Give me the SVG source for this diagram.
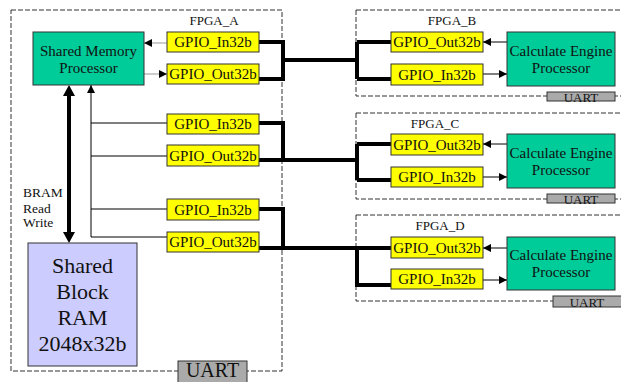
<svg xmlns="http://www.w3.org/2000/svg" width="621" height="382" viewBox="0 0 621 382">
<defs>
<marker id="ah" viewBox="0 0 10 10" refX="10" refY="5" markerWidth="8" markerHeight="8" markerUnits="userSpaceOnUse" orient="auto"><path d="M0,0 L10,5 L0,10 z" fill="#000"/></marker>
<style>
text{font-family:"Liberation Serif","Times New Roman",serif;fill:#111}
.fpga{fill:none;stroke:#333;stroke-width:1;stroke-dasharray:5 2}
.gpio{fill:#ffff00;stroke:#333;stroke-width:1}
.gt{font-size:15px;text-anchor:middle}
.proc{fill:#00cc99;stroke:#333;stroke-width:1}
.pt{font-size:15px;text-anchor:middle}
.uart{fill:#aaaaaa;stroke:#333;stroke-width:1}
.bus{fill:none;stroke:#000;stroke-width:4;stroke-linejoin:miter}
.thin{fill:none;stroke:#000;stroke-width:1}
.gray{fill:none;stroke:#999;stroke-width:1}
.lbl{font-size:13px;text-anchor:middle}
</style>
</defs>

<g id="FPGA_A">
<rect class="fpga" x="11" y="10" width="271" height="361"/>
<text class="lbl" x="214" y="25">FPGA_A</text>
</g>
<g id="FPGA_B">
<rect class="fpga" x="356" y="10" width="270" height="86"/>
<text class="lbl" x="452" y="25">FPGA_B</text>
</g>
<g id="FPGA_C">
<rect class="fpga" x="356" y="113" width="270" height="86"/>
<text class="lbl" x="435" y="128">FPGA_C</text>
</g>
<g id="FPGA_D">
<rect class="fpga" x="356" y="215" width="270" height="86"/>
<text class="lbl" x="440" y="230">FPGA_D</text>
</g>

<g id="connectors">
<path class="bus" d="M259,42 H283 V79 H259 M283,60 H357 M357,42 V79 M357,42 H391 M357,79 H391"/>
<path class="bus" d="M259,123 H283 V160 M259,160 H357 M357,144 V180 M357,144 H391 M357,180 H391"/>
<path class="bus" d="M259,209 H283 V248 M259,248 H391 M357,248 V285 H391"/>
<path class="gray" d="M167,43 H144" marker-end="url(#ah)"/>
<path class="gray" d="M144,74 H167" marker-end="url(#ah)"/>
<path class="thin" d="M507,42 H483" stroke="#222" marker-end="url(#ah)"/>
<path class="thin" d="M483,74 H507" stroke="#222" marker-end="url(#ah)"/>
<path class="thin" d="M507,144 H483" marker-end="url(#ah)"/>
<path class="thin" d="M483,177 H507" marker-end="url(#ah)"/>
<path class="thin" d="M507,248 H483" marker-end="url(#ah)"/>
<path class="thin" d="M483,280 H507" marker-end="url(#ah)"/>
<path class="thin" d="M91,237 V85" marker-end="url(#ah)"/>
<path class="thin" d="M91,123 H167 M91,156 H167 M91,209 H167 M91,237 H167"/>
<path d="M69,90 V238" stroke="#000" stroke-width="4" fill="none"/>
<path d="M69,85 L63,96 L75,96 z M69,243 L63,232 L75,232 z" fill="#000"/>
<text x="23" y="197" font-size="13.5">BRAM</text>
<text x="23" y="213" font-size="13.5">Read</text>
<text x="23" y="227" font-size="13.5">Write</text>
</g>

<g id="SharedMemoryProcessor">
<rect class="proc" x="33" y="32" width="111" height="53"/>
<text class="pt" x="88.5" y="56">Shared Memory</text>
<text class="pt" x="88.5" y="73">Processor</text>
</g>

<g id="SharedBlockRAM">
<rect x="28" y="243" width="109" height="123" fill="#ccccff" stroke="#333"/>
<text x="82.5" y="273" font-size="22" text-anchor="middle">Shared</text>
<text x="82.5" y="299" font-size="22" text-anchor="middle">Block</text>
<text x="82.5" y="325" font-size="22" text-anchor="middle">RAM</text>
<text x="82.5" y="351" font-size="22" text-anchor="middle">2048x32b</text>
</g>

<g id="UART_A">
<rect class="uart" x="178" y="361" width="69" height="24"/>
<text x="212.5" y="377" font-size="20" text-anchor="middle">UART</text>
</g>

<g id="A_GPIO_In1"><rect class="gpio" x="167" y="32" width="92" height="20"/><text class="gt" x="213" y="47">GPIO_In32b</text></g>
<g id="A_GPIO_Out1"><rect class="gpio" x="167" y="64" width="92" height="20"/><text class="gt" x="213" y="79">GPIO_Out32b</text></g>
<g id="A_GPIO_In2"><rect class="gpio" x="167" y="114" width="92" height="20"/><text class="gt" x="213" y="129">GPIO_In32b</text></g>
<g id="A_GPIO_Out2"><rect class="gpio" x="167" y="145" width="92" height="21"/><text class="gt" x="213" y="161">GPIO_Out32b</text></g>
<g id="A_GPIO_In3"><rect class="gpio" x="167" y="199" width="92" height="21"/><text class="gt" x="213" y="215">GPIO_In32b</text></g>
<g id="A_GPIO_Out3"><rect class="gpio" x="167" y="232" width="92" height="20"/><text class="gt" x="213" y="247">GPIO_Out32b</text></g>

<g id="B_GPIO_Out"><rect class="gpio" x="391" y="32" width="92" height="20"/><text class="gt" x="437" y="47">GPIO_Out32b</text></g>
<g id="B_GPIO_In"><rect class="gpio" x="391" y="64" width="92" height="21"/><text class="gt" x="437" y="80">GPIO_In32b</text></g>
<g id="B_CEP"><rect class="proc" x="507" y="32" width="108" height="54"/><text class="pt" x="561" y="56">Calculate Engine</text><text class="pt" x="561" y="73">Processor</text></g>
<g id="B_UART"><rect class="uart" x="547" y="92" width="68" height="9"/><text x="581" y="101.5" font-size="13" text-anchor="middle">UART</text></g>

<g id="C_GPIO_Out"><rect class="gpio" x="391" y="134" width="92" height="21"/><text class="gt" x="437" y="150">GPIO_Out32b</text></g>
<g id="C_GPIO_In"><rect class="gpio" x="391" y="167" width="92" height="20"/><text class="gt" x="437" y="182">GPIO_In32b</text></g>
<g id="C_CEP"><rect class="proc" x="507" y="134" width="108" height="54"/><text class="pt" x="561" y="158">Calculate Engine</text><text class="pt" x="561" y="175">Processor</text></g>
<g id="C_UART"><rect class="uart" x="547" y="194" width="68" height="9"/><text x="581" y="203.5" font-size="13" text-anchor="middle">UART</text></g>

<g id="D_GPIO_Out"><rect class="gpio" x="391" y="237" width="92" height="21"/><text class="gt" x="437" y="253">GPIO_Out32b</text></g>
<g id="D_GPIO_In"><rect class="gpio" x="391" y="269" width="92" height="20"/><text class="gt" x="437" y="284">GPIO_In32b</text></g>
<g id="D_CEP"><rect class="proc" x="507" y="237" width="108" height="53"/><text class="pt" x="561" y="260">Calculate Engine</text><text class="pt" x="561" y="277">Processor</text></g>
<g id="D_UART"><rect class="uart" x="553" y="296" width="72" height="11"/><text x="587" y="306.5" font-size="13" text-anchor="middle">UART</text></g>
</svg>
